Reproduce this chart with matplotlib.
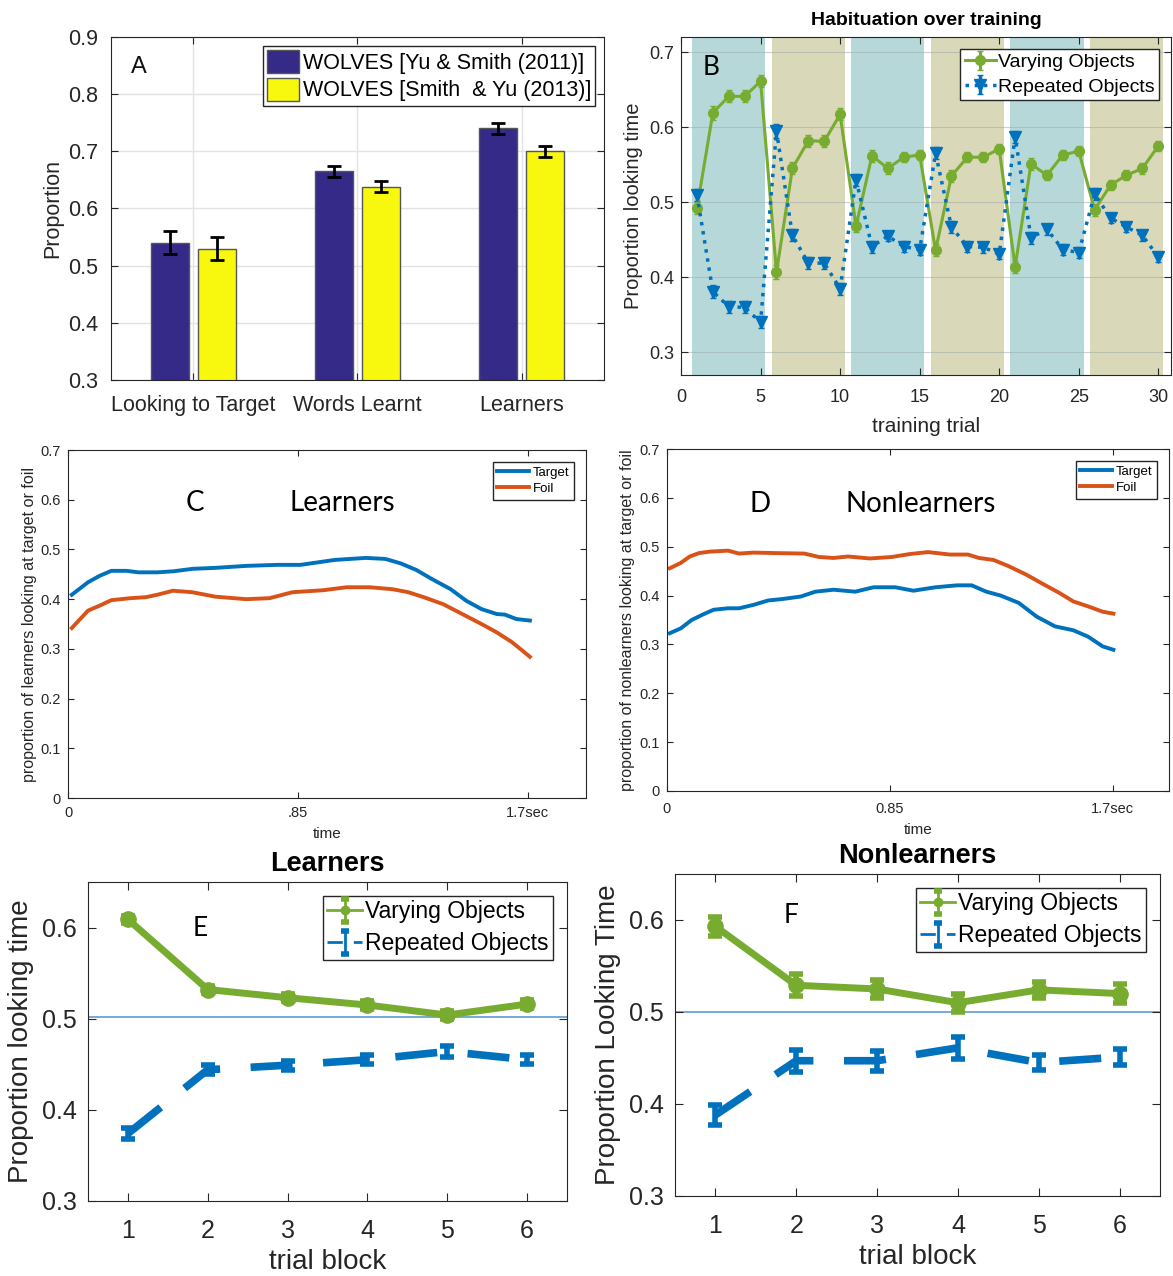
import numpy as np
import matplotlib
matplotlib.use("Agg")
import matplotlib.pyplot as plt
from matplotlib.legend_handler import HandlerErrorbar

plt.rcParams['font.family'] = ['Liberation Sans', 'DejaVu Sans']
plt.rcParams['axes.edgecolor'] = '#262626'
plt.rcParams['xtick.color'] = '#262626'
plt.rcParams['ytick.color'] = '#262626'
plt.rcParams['legend.fancybox'] = False
plt.rcParams['legend.edgecolor'] = '#262626'
plt.rcParams['legend.framealpha'] = 1

BLUE = '#0072BD'
ORANGE = '#D95319'
GREEN = '#77AC30'
PARULA_BLUE = '#352A87'
PARULA_YELLOW = '#F8F80F'
CAL = ['Lato', 'DejaVu Sans']

# --- A: model fits ---
measures = ['Looking to Target', 'Words Learnt', 'Learners']
yu_smith_2011 = [0.54, 0.665, 0.74]
yu_smith_2011_err = [0.02, 0.01, 0.01]
smith_yu_2013 = [0.53, 0.638, 0.70]
smith_yu_2013_err = [0.02, 0.01, 0.01]

# --- B: habituation over training ---
trials = list(range(1, 31))
varying_trials = [0.492, 0.619, 0.641, 0.641, 0.661, 0.407, 0.545, 0.582, 0.581, 0.617,
                  0.468, 0.562, 0.545, 0.560, 0.563, 0.436, 0.535, 0.560, 0.560, 0.571,
                  0.414, 0.551, 0.536, 0.563, 0.568, 0.490, 0.523, 0.536, 0.545, 0.575]
varying_trials_err = [0.008, 0.009, 0.008, 0.008, 0.008, 0.009, 0.008, 0.008, 0.008, 0.008,
                      0.008, 0.008, 0.008, 0.007, 0.007, 0.008, 0.008, 0.007, 0.007, 0.007,
                      0.008, 0.008, 0.007, 0.007, 0.007, 0.008, 0.007, 0.007, 0.007, 0.007]
repeated_trials = [0.510, 0.381, 0.361, 0.360, 0.340, 0.595, 0.456, 0.419, 0.419, 0.385,
                   0.530, 0.441, 0.455, 0.441, 0.437, 0.565, 0.467, 0.441, 0.440, 0.431,
                   0.587, 0.453, 0.464, 0.437, 0.433, 0.511, 0.479, 0.467, 0.456, 0.427]
repeated_trials_err = [0.008, 0.009, 0.008, 0.008, 0.008, 0.009, 0.008, 0.008, 0.008, 0.008,
                       0.008, 0.008, 0.007, 0.007, 0.007, 0.008, 0.008, 0.007, 0.007, 0.007,
                       0.008, 0.008, 0.007, 0.007, 0.007, 0.008, 0.007, 0.007, 0.007, 0.007]

# --- C: learners, looking over the test trial ---
time_learn = [0.014, 0.074, 0.117, 0.16, 0.217, 0.26, 0.33, 0.388, 0.46, 0.545, 0.66,
              0.773, 0.859, 0.987, 1.101, 1.173, 1.23, 1.287, 1.344, 1.415, 1.472,
              1.529, 1.586, 1.615, 1.658, 1.708]
target_learn = [0.409, 0.434, 0.447, 0.457, 0.457, 0.454, 0.454, 0.456, 0.461, 0.463,
                0.467, 0.469, 0.469, 0.479, 0.483, 0.481, 0.472, 0.459, 0.441, 0.420,
                0.397, 0.380, 0.370, 0.369, 0.360, 0.357]
time_learn_foil = [0.014, 0.074, 0.117, 0.16, 0.231, 0.288, 0.331, 0.388, 0.459, 0.545,
                   0.659, 0.745, 0.83, 0.944, 1.03, 1.115, 1.2, 1.258, 1.315, 1.387,
                   1.458, 1.529, 1.586, 1.643, 1.708]
foil_learn = [0.342, 0.377, 0.387, 0.398, 0.402, 0.404, 0.409, 0.417, 0.414, 0.405,
              0.400, 0.402, 0.414, 0.418, 0.424, 0.424, 0.420, 0.414, 0.404, 0.390,
              0.370, 0.350, 0.333, 0.313, 0.284]

# --- D: nonlearners, looking over the test trial ---
time_non_foil = [0.011, 0.053, 0.087, 0.122, 0.164, 0.233, 0.275, 0.33, 0.413, 0.524,
                 0.58, 0.635, 0.69, 0.774, 0.857, 0.926, 0.996, 1.079, 1.148, 1.19,
                 1.245, 1.3, 1.37, 1.44, 1.495, 1.55, 1.606, 1.662, 1.703]
foil_non = [0.456, 0.467, 0.480, 0.487, 0.490, 0.492, 0.486, 0.488, 0.487, 0.486,
            0.479, 0.477, 0.480, 0.476, 0.479, 0.485, 0.489, 0.484, 0.484, 0.477,
            0.473, 0.461, 0.443, 0.422, 0.406, 0.388, 0.378, 0.367, 0.363]
time_non = [0.011, 0.053, 0.094, 0.136, 0.178, 0.233, 0.275, 0.33, 0.386, 0.441, 0.51,
            0.566, 0.635, 0.718, 0.788, 0.871, 0.94, 1.024, 1.107, 1.162, 1.218, 1.273,
            1.342, 1.41, 1.48, 1.55, 1.606, 1.662, 1.703]
target_non = [0.323, 0.333, 0.350, 0.361, 0.371, 0.374, 0.374, 0.381, 0.390, 0.393,
              0.398, 0.408, 0.412, 0.408, 0.417, 0.417, 0.410, 0.417, 0.421, 0.421,
              0.408, 0.400, 0.385, 0.357, 0.337, 0.329, 0.316, 0.296, 0.289]

# --- E/F: looking time by trial block ---
blocks = [1, 2, 3, 4, 5, 6]
learn_varying = [0.609, 0.532, 0.523, 0.515, 0.504, 0.516]
learn_varying_err = [0.004, 0.004, 0.004, 0.004, 0.004, 0.004]
learn_repeated = [0.374, 0.444, 0.449, 0.455, 0.464, 0.455]
learn_repeated_err = [0.006, 0.005, 0.005, 0.005, 0.006, 0.005]
non_varying = [0.593, 0.529, 0.525, 0.510, 0.524, 0.520]
non_varying_err = [0.010, 0.012, 0.010, 0.010, 0.009, 0.010]
non_repeated = [0.388, 0.447, 0.447, 0.461, 0.445, 0.451]
non_repeated_err = [0.011, 0.012, 0.011, 0.012, 0.008, 0.009]

fig = plt.figure(figsize=(11.73, 12.76), dpi=100)


def box_ticks(ax, size, length=5, xpad=4, ypad=4):
    ax.tick_params(direction='in', top=True, right=True, labelsize=size, length=length)
    ax.tick_params(axis='x', pad=xpad)
    ax.tick_params(axis='y', pad=ypad)


def thin_handle(artist, orig):
    # legend entries keep the series style but drawn thin
    artist.update_from(orig)
    artist.set_linewidth(2)
    if hasattr(artist, 'set_markersize'):
        artist.set_markersize(6)


# A
axA = fig.add_axes([0.0946, 0.7022, 0.4203, 0.2688])
xa = np.arange(1, 4)
axA.bar(xa - 0.143, yu_smith_2011, 0.23, color=PARULA_BLUE, edgecolor='#555555', lw=1,
        label='WOLVES [Yu & Smith (2011)]')
axA.bar(xa + 0.143, smith_yu_2013, 0.23, color=PARULA_YELLOW, edgecolor='#555555', lw=1,
        label='WOLVES [Smith  & Yu (2013)]')
axA.errorbar(xa - 0.143, yu_smith_2011, yerr=yu_smith_2011_err, fmt='none', ecolor='black',
             elinewidth=2, capsize=5, capthick=2)
axA.errorbar(xa + 0.143, smith_yu_2013, yerr=smith_yu_2013_err, fmt='none', ecolor='black',
             elinewidth=2, capsize=5, capthick=2)
axA.set_xlim(0.5, 3.5)
axA.set_ylim(0.3, 0.9)
axA.set_xticks(xa)
axA.set_xticklabels(measures)
axA.set_yticks(np.arange(0.3, 0.91, 0.1))
axA.grid(True, color='#e3e3e3', lw=1)
axA.set_axisbelow(True)
box_ticks(axA, 15.5, xpad=11, ypad=9)
axA.set_ylabel('Proportion', fontsize=15.5, color='#262626', labelpad=4)
axA.text(0.04, 0.912, 'A', transform=axA.transAxes, fontsize=17, color='#111111', va='center')
axA.legend(loc='upper right', fontsize=15.5, handlelength=1.5, handleheight=1.25,
           handletextpad=0.15, borderpad=0.2, labelspacing=0.2, borderaxespad=0.4)

# B
axB = fig.add_axes([0.5806, 0.7061, 0.4177, 0.2649])
for k, start in enumerate(range(1, 31, 5)):
    axB.axvspan(start - 0.3, start + 4.3, color='#B7D8D9' if k % 2 == 0 else '#D9D8B9',
                lw=0, zorder=0.5)
axB.errorbar(trials, varying_trials, yerr=varying_trials_err, color=GREEN, lw=2.2,
             marker='o', ms=7, capsize=2, label='Varying Objects', zorder=3)
axB.errorbar(trials, repeated_trials, yerr=repeated_trials_err, color=BLUE, lw=2.5, ls=':',
             marker='v', ms=9, capsize=2, label='Repeated Objects', zorder=3)
axB.set_xlim(0, 30.8)
axB.set_ylim(0.27, 0.72)
axB.set_xticks(range(0, 31, 5))
axB.set_yticks([0.3, 0.4, 0.5, 0.6, 0.7])
axB.grid(True, axis='y', color='#9aa9a9', lw=0.8, alpha=0.5)
axB.set_axisbelow('line')
box_ticks(axB, 13, xpad=10, ypad=5)
axB.set_ylabel('Proportion looking time', fontsize=14.5, color='#262626')
axB.set_xlabel('training trial', fontsize=15, color='#262626', labelpad=8)
axB.set_title('Habituation over training', fontsize=14, fontweight='bold', pad=9)
axB.text(0.045, 0.91, 'B', transform=axB.transAxes, fontsize=19, family=CAL, va='center')
axB.legend(loc='upper right', fontsize=14, handlelength=1.6, handletextpad=0.1,
           borderpad=0.25, labelspacing=0.35, borderaxespad=0.6)

# C and D
for pos, tt, tv, tf, fv, who, letter, mid, xpad in [
        ([0.058, 0.3746, 0.4415, 0.2727], time_learn, target_learn, time_learn_foil, foil_learn,
         'learners', 'C', '.85', 6),
        ([0.5686, 0.3801, 0.4280, 0.2680], time_non, target_non, time_non_foil, foil_non,
         'nonlearners', 'D', '0.85', 8)]:
    ax = fig.add_axes(pos)
    ax.plot(tt, tv, color=BLUE, lw=2.8, label='Target')
    ax.plot(tf, fv, color=ORANGE, lw=2.8, label='Foil')
    ax.set_xlim(0, 1.915)
    ax.set_ylim(0, 0.7)
    ax.set_xticks([0, 0.85, 1.7])
    ax.set_xticklabels(['0', mid, '1.7sec'])
    ax.set_yticks(np.arange(0, 0.71, 0.1))
    ax.set_yticklabels(['0', '0.1', '0.2', '0.3', '0.4', '0.5', '0.6', '0.7'])
    box_ticks(ax, 10.5, length=4, xpad=xpad, ypad=5)
    ax.set_ylabel(f'proportion of {who} looking at target or foil', fontsize=11.5,
                  color='#262626', labelpad=3)
    ax.set_xlabel('time', fontsize=11, color='#262626', labelpad=5)
    if letter == 'C':
        ax.text(0.245, 0.848, 'C', transform=ax.transAxes, fontsize=20, family=CAL,
                ha='center', va='center')
        ax.text(0.53, 0.848, 'Learners', transform=ax.transAxes, fontsize=20, family=CAL,
                ha='center', va='center')
    else:
        ax.text(0.185, 0.84, 'D', transform=ax.transAxes, fontsize=20, family=CAL,
                ha='center', va='center')
        ax.text(0.505, 0.84, 'Nonlearners', transform=ax.transAxes, fontsize=20, family=CAL,
                ha='center', va='center')
    ax.legend(loc='upper right', fontsize=9.5, handlelength=2.4, handletextpad=0.3,
              borderpad=0.35, labelspacing=0.3, borderaxespad=0.9)

# E and F
for pos, var, var_err, rep, rep_err, title, ylab, letter, lxy, hline in [
        ([0.075, 0.0588, 0.4084, 0.25], learn_varying, learn_varying_err, learn_repeated,
         learn_repeated_err, 'Learners', 'Proportion looking time', 'E', (0.235, 0.855), 0.502),
        ([0.5754, 0.0627, 0.4135, 0.2524], non_varying, non_varying_err, non_repeated,
         non_repeated_err, 'Nonlearners', 'Proportion Looking Time', 'F', (0.24, 0.87), 0.5)]:
    ax = fig.add_axes(pos)
    ax.axhline(hline, color='#5B9BD5', lw=1.2, zorder=1)
    ax.errorbar(blocks, var, yerr=var_err, color=GREEN, lw=5, marker='o', ms=11,
                capsize=5, capthick=4, elinewidth=4, label='Varying Objects', zorder=3)
    ax.errorbar(blocks, rep, yerr=rep_err, color=BLUE, lw=5.5, ls=(0, (5.5, 4)),
                capsize=5, capthick=4, elinewidth=4, label='Repeated Objects', zorder=3)
    ax.set_xlim(0.5, 6.5)
    ax.set_ylim(0.3, 0.65)
    ax.set_xticks(blocks)
    ax.set_yticks([0.3, 0.4, 0.5, 0.6])
    box_ticks(ax, 18, length=6, xpad=13, ypad=8)
    ax.set_ylabel(ylab, fontsize=20, color='#262626', labelpad=6)
    ax.set_xlabel('trial block', fontsize=20, color='#262626', labelpad=4)
    ax.set_title(title, fontsize=19.5, fontweight='bold', pad=8)
    ax.text(lxy[0], lxy[1], letter, transform=ax.transAxes, fontsize=19, family=CAL,
            ha='center', va='center')
    ax.legend(loc='upper right', fontsize=16.5, handlelength=1.5, handletextpad=0.15,
              borderpad=0.2, labelspacing=0.4, borderaxespad=0.6,
              handler_map={type(ax.containers[0]): HandlerErrorbar(update_func=thin_handle)})

fig.savefig('out.png', dpi=100)
